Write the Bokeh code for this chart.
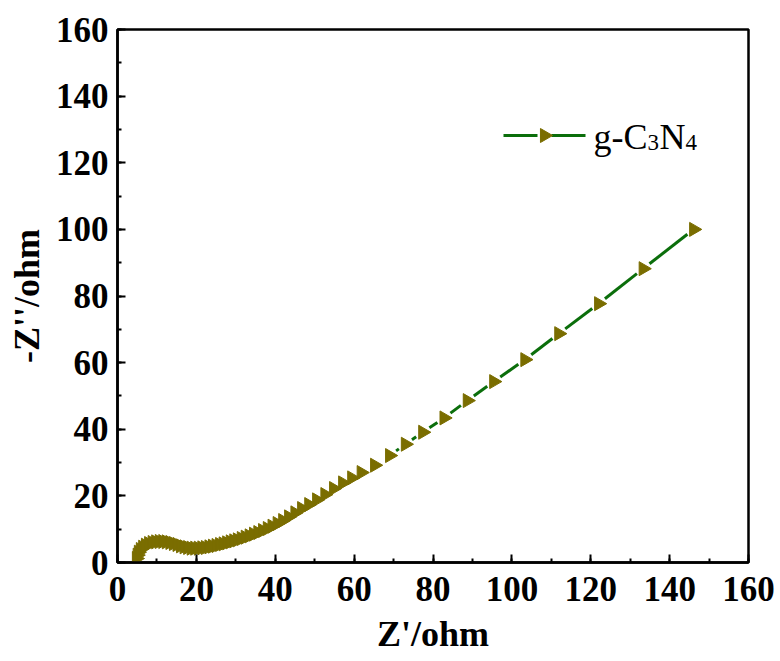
import numpy as np
from bokeh.plotting import figure
from bokeh.models import Range1d, SingleIntervalTicker
from bokeh.core.properties import value
from bokeh.embed import file_html
from bokeh.resources import INLINE

# ---- data ----
z_real = [4.8, 5.0, 5.3, 5.8, 6.4, 7.1, 7.9, 8.8, 9.7, 10.6,
          11.5, 12.4, 13.3, 14.2, 15.1, 16.0, 16.9, 17.8, 18.7, 19.6,
          20.5, 21.4, 22.3, 23.2, 24.1, 25.0, 25.9, 26.8, 27.7, 28.6,
          29.5, 30.4, 31.4, 32.4, 33.4, 34.5, 35.6, 36.8, 38.0, 39.2,
          40.5, 41.9, 43.4, 45.0, 46.7, 48.5, 50.5, 52.6, 54.8, 57.1,
          59.4, 61.8, 65.2, 69.0, 73.0, 77.4, 82.8, 88.7, 95.4, 103.3,
          111.9, 122.0, 133.3, 146.1]
z_imag = [1.2, 2.2, 3.1, 3.9, 4.6, 5.2, 5.7, 6.0, 6.2, 6.3,
          6.3, 6.2, 6.0, 5.7, 5.4, 5.0, 4.7, 4.5, 4.3, 4.3,
          4.3, 4.4, 4.5, 4.7, 4.9, 5.1, 5.4, 5.6, 5.9, 6.2,
          6.5, 6.8, 7.2, 7.6, 8.0, 8.5, 9.0, 9.6, 10.2, 10.9,
          11.7, 12.6, 13.7, 14.9, 16.2, 17.4, 18.8, 20.4, 22.2, 23.9,
          25.4, 27.0, 29.2, 32.1, 35.5, 39.1, 43.4, 48.6, 54.3, 60.9,
          68.7, 77.7, 88.2, 100.0]
series_name = ["g-C", "3", "N", "4"]
x_lim = (0, 160)
y_lim = (0, 160)

# ---- layout ----
W, H = 780, 661
BL, BR, BT, BB = 117, 32, 29, 99
FW, FH = W - BL - BR, H - BT - BB
sx = FW / (x_lim[1] - x_lim[0])
sy = FH / (y_lim[1] - y_lim[0])

LINE_C = "#0b6e0b"
MARK_C = "#7a6d00"
FONT = "Liberation Serif"

p = figure(width=W, height=H, output_backend="svg", toolbar_location=None,
           x_range=Range1d(*x_lim), y_range=Range1d(*y_lim),
           min_border_left=BL, min_border_right=BR, min_border_top=BT, min_border_bottom=BB)
p.background_fill_color = "white"
p.border_fill_color = "white"
p.outline_line_color = "black"
p.outline_line_width = 2.5
p.xgrid.visible = False
p.ygrid.visible = False

for ax, lab in ((p.xaxis[0], "Z'/ohm"), (p.yaxis[0], "-Z''/ohm")):
    ax.ticker = SingleIntervalTicker(interval=20, num_minor_ticks=2)
    ax.axis_label = lab
    ax.axis_line_width = 2.5
    ax.axis_line_color = "black"
    ax.major_tick_in = 8
    ax.major_tick_out = 0
    ax.minor_tick_in = 4
    ax.minor_tick_out = 0
    ax.major_tick_line_width = 2
    ax.minor_tick_line_width = 2
    ax.major_label_text_font = FONT
    ax.major_label_text_font_style = "bold"
    ax.major_label_text_font_size = "35px"
    ax.major_label_text_color = "black"
    ax.axis_label_text_font = FONT
    ax.axis_label_text_font_style = "bold"
    ax.axis_label_text_font_size = "36px"
    ax.axis_label_text_color = "black"
p.xaxis[0].major_label_standoff = 14
p.yaxis[0].major_label_standoff = 9
p.xaxis[0].axis_label_standoff = 10
p.yaxis[0].axis_label_standoff = 6

# ---- connecting line with gaps around symbols ----
GAP = 8.0
x0s, y0s, x1s, y1s = [], [], [], []
for i in range(len(z_real) - 1):
    dxp = (z_real[i + 1] - z_real[i]) * sx
    dyp = (z_imag[i + 1] - z_imag[i]) * sy
    L = float(np.hypot(dxp, dyp))
    if L > 2 * GAP + 2:
        ux, uy = dxp / L, dyp / L
        x0s.append(z_real[i] + ux * GAP / sx)
        y0s.append(z_imag[i] + uy * GAP / sy)
        x1s.append(z_real[i + 1] - ux * GAP / sx)
        y1s.append(z_imag[i + 1] - uy * GAP / sy)
p.segment(x0=x0s, y0=y0s, x1=x1s, y1=y1s, line_color=LINE_C, line_width=3)

p.scatter(x=z_real, y=z_imag, marker="triangle", size=14, angle=-np.pi / 2,
          fill_color=MARK_C, line_color=MARK_C)

# ---- legend (drawn manually) ----
lx0 = (503 - BL) / sx
lx1 = (585 - BL) / sx
lxm = (lx0 + lx1) / 2
ly = (H - BB - 135) / sy
g = 7 / sx
p.segment(x0=[lx0, lxm + g], y0=[ly, ly], x1=[lxm - g, lx1], y1=[ly, ly],
          line_color=LINE_C, line_width=3)
p.scatter(x=[lxm], y=[ly], marker="triangle", size=14, angle=-np.pi / 2,
          fill_color=MARK_C, line_color=MARK_C)

tx = (593 - BL) / sx
tb = (H - BB - 153) / sy
offs = [0, 54, 66, 92]
sizes = ["36px", "23px", "36px", "23px"]
yoffs = [-17, -11, -17, -11]
for s, o, fs, yo in zip(series_name, offs, sizes, yoffs):
    p.text(x=[tx], y=[tb], text=[s], x_offset=o, y_offset=yo,
           text_font=value(FONT), text_font_size=fs, text_color="black",
           text_baseline="alphabetic", text_align="left")

open("out.html", "w").write(file_html(p, INLINE))
